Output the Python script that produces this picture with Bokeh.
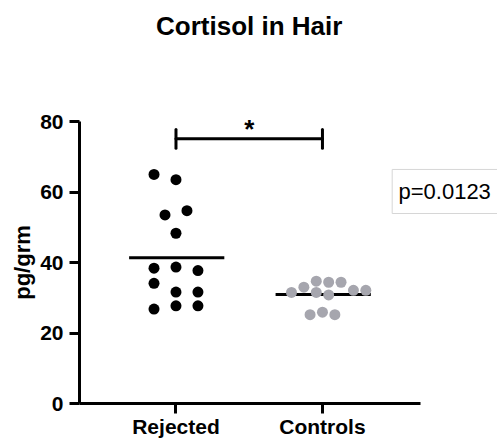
import numpy as np
from bokeh.plotting import figure
from bokeh.models import Range1d, FixedTicker, Label, BoxAnnotation
from bokeh.embed import file_html
from bokeh.resources import INLINE

# ---- data ----
categories = ["Rejected", "Controls"]
rejected = [65.0, 63.5, 53.5, 54.7, 48.3, 38.4, 38.7, 37.7, 34.1, 31.6, 31.6, 26.8, 27.7, 27.7]
rejected_slot = [-2, 0, -1, 1, 0, -2, 0, 2, -2, 0, 2, -2, 0, 2]
controls = [31.5, 33.0, 34.7, 34.4, 34.4, 31.5, 30.8, 32.1, 32.1, 25.2, 25.9, 25.2]
controls_slot = [-5, -3, -1, 1, 3, -1, 1, 5, 7, -2, 0, 2]
y_ticks = [0, 20, 40, 60, 80]
title_text = "Cortisol in Hair"
y_label = "pg/grm"
p_text = "p=0.0123"
sig_text = "*"
sig_level = 75.1

FONT = "Liberation Sans"
X0, X1 = -0.198, 3.195     # data x at left / right edge of the frame
Y0, Y1 = -10.21, 114.33    # data y at bottom / top edge of the frame
AXIS_X = 0.3413            # where the y axis stands

p = figure(width=497, height=439, output_backend="svg", toolbar_location=None,
           x_range=Range1d(X0, X1), y_range=Range1d(Y0, Y1),
           min_border_left=0, min_border_right=0, min_border_top=0, min_border_bottom=0)
p.outline_line_color = None
p.xgrid.visible = False
p.ygrid.visible = False

for ax in (p.xaxis[0], p.yaxis[0]):
    ax.axis_line_width = 3
    ax.axis_line_color = "black"
    ax.major_tick_line_width = 3
    ax.major_tick_line_color = "black"
    ax.major_tick_out = 10
    ax.major_tick_in = 0
    ax.minor_tick_line_color = None
    ax.major_label_text_font = FONT
    ax.major_label_text_font_style = "bold"
    ax.major_label_text_font_size = "21px"
    ax.major_label_text_color = "black"

p.yaxis.ticker = FixedTicker(ticks=y_ticks)
p.yaxis.major_label_standoff = 6
p.yaxis.fixed_location = AXIS_X
p.yaxis.bounds = (0, 80)

p.xaxis.ticker = FixedTicker(ticks=[1, 2])
p.xaxis.major_label_overrides = {i + 1: c for i, c in enumerate(categories)}
p.xaxis.major_label_standoff = 1
p.xaxis.fixed_location = 0
p.xaxis.bounds = (AXIS_X, 2.669)

# y axis title
p.add_layout(Label(x=-0.045, y=40, text=y_label, angle=np.pi / 2, text_align="center",
                   text_baseline="middle", text_font=FONT, text_font_style="bold",
                   text_font_size="22px", text_color="black"))

# mean lines
means = [float(np.mean(rejected)), float(np.mean(controls))]
p.segment(x0=[1 - 0.32, 2 - 0.32], x1=[1 + 0.33, 2 + 0.33], y0=means, y1=means,
          line_color="black", line_width=3)

# points
rx = [1 + s * 0.075 for s in rejected_slot]
cx = [2 + s * 0.0423 for s in controls_slot]
p.scatter(x=rx, y=rejected, marker="circle", size=11, fill_color="black", line_color=None)
p.scatter(x=cx, y=controls, marker="circle", size=11, fill_color="#a6a6ae", line_color=None)

# significance bracket
p.segment(x0=[1, 1, 2], x1=[2, 1, 2], y0=[sig_level, sig_level - 2.7, sig_level - 2.7],
          y1=[sig_level, sig_level + 2.6, sig_level + 2.6],
          line_color="black", line_width=3, line_cap="round")
p.add_layout(Label(x=1.5, y=sig_level + 2.9, text=sig_text, text_align="center",
                   text_baseline="alphabetic", text_font=FONT, text_font_style="bold",
                   text_font_size="26px", text_color="black"))

# title
p.add_layout(Label(x=1.5, y=107.2, text=title_text, text_align="center",
                   text_baseline="alphabetic", text_font=FONT, text_font_style="bold",
                   text_font_size="26px", text_color="black"))

# p-value box
p.add_layout(BoxAnnotation(left=2.476, right=3.6, top=66.4, bottom=53.9,
                           fill_color="white", fill_alpha=1.0,
                           line_color="#d6d6d6", line_alpha=1.0, line_width=1))
p.add_layout(Label(x=2.519, y=60.2, text=p_text, text_align="left",
                   text_baseline="alphabetic", text_font=FONT,
                   text_font_size="22px", text_color="black"))

open("out.html", "w").write(file_html(p, INLINE))
